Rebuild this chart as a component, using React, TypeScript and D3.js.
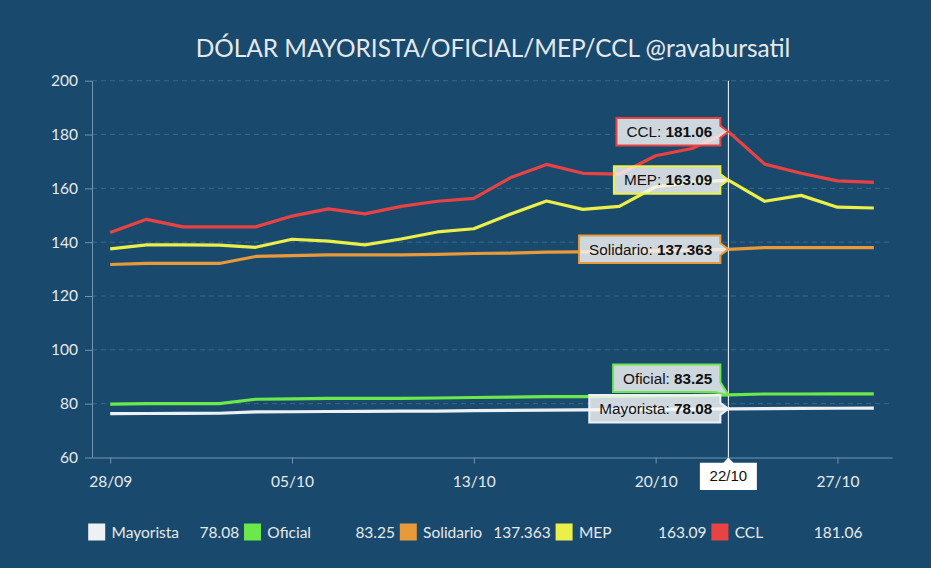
import React, { useEffect, useRef } from 'react';
import * as d3 from 'd3';

// fechas (días hábiles)
const dates = [
  '28/09', '29/09', '30/09', '01/10', '02/10', '05/10', '06/10', '07/10', '08/10', '09/10', '13/10',
  '14/10', '15/10', '16/10', '19/10', '20/10', '21/10', '22/10', '23/10', '26/10', '27/10', '28/10'
];

const mayorista = [76.3, 76.35, 76.4, 76.45, 76.95, 77.0, 77.1, 77.15, 77.2, 77.25, 77.45, 77.5, 77.6, 77.7, 77.8, 77.9, 78.0, 78.08, 78.15, 78.25, 78.3, 78.35];
const oficial = [79.8, 80.05, 80.05, 80.05, 81.65, 81.8, 82.0, 82.0, 82.0, 82.1, 82.3, 82.4, 82.6, 82.65, 82.8, 82.9, 83.0, 83.25, 83.6, 83.6, 83.65, 83.65];
const solidario = [131.7, 132.1, 132.1, 132.1, 134.7, 135.0, 135.3, 135.3, 135.3, 135.5, 135.8, 135.9, 136.3, 136.4, 136.6, 136.8, 137.0, 137.363, 138.0, 138.0, 138.0, 138.0];
const mep = [137.5, 139.0, 139.0, 138.9, 138.1, 141.1, 140.4, 139.0, 141.2, 143.8, 145.0, 150.4, 155.3, 152.2, 153.3, 160.6, 162.2, 163.09, 155.2, 157.4, 153.0, 152.7];
const ccl = [143.6, 148.5, 145.7, 145.7, 145.7, 149.7, 152.4, 150.5, 153.3, 155.2, 156.3, 163.9, 168.9, 165.6, 165.3, 172.1, 174.8, 181.06, 169.0, 165.6, 162.8, 162.2];

const seriesNames = ['Mayorista', 'Oficial', 'Solidario', 'MEP', 'CCL'];
const seriesValues = [mayorista, oficial, solidario, mep, ccl];
const seriesColors = ['#eef1f4', '#6be84a', '#e89a3a', '#ebef48', '#e84242'];

const yTicks = [60, 80, 100, 120, 140, 160, 180, 200];
const xTickLabels = ['28/09', '05/10', '13/10', '20/10', '27/10'];
const hoverDate = '22/10';

const App = () => {
  const svgRef = useRef<SVGSVGElement>(null);

  useEffect(() => {
    const svg = d3.select(svgRef.current);
    svg.selectAll('*').remove();

    const width = 931;
    const height = 568;
    const plotLeft = 92;
    const plotRight = 892;
    const plotTop = 80.7;
    const plotBottom = 457.5;

    const x = d3.scalePoint<string>().domain(dates).range([plotLeft, plotRight]).padding(0.5);
    const y = d3.scaleLinear().domain([60, 200]).range([plotBottom, plotTop]);

    svg.append('rect').attr('width', width).attr('height', height).attr('fill', '#194a6e');

    // título
    svg.append('text')
      .attr('x', 493)
      .attr('y', 57)
      .attr('text-anchor', 'middle')
      .attr('font-family', 'Lato, sans-serif')
      .attr('font-size', '24.4px')
      .attr('fill', '#e6e9ec')
      .text('DÓLAR MAYORISTA/OFICIAL/MEP/CCL @ravabursatil');

    // grilla
    svg.append('g')
      .selectAll('line')
      .data(yTicks.filter(t => t > 60))
      .join('line')
      .attr('x1', plotLeft)
      .attr('x2', plotRight)
      .attr('y1', d => y(d))
      .attr('y2', d => y(d))
      .attr('stroke', '#3b6688')
      .attr('stroke-dasharray', '5,4');

    // eje Y
    const yAxis = svg.append('g')
      .attr('transform', `translate(${plotLeft},0)`)
      .call(d3.axisLeft(y).tickValues(yTicks).tickSize(7).tickSizeOuter(0).tickPadding(7));
    yAxis.select('.domain').attr('stroke', '#7394ae');
    yAxis.selectAll('.tick line').attr('stroke', '#7394ae');
    yAxis.selectAll('text')
      .attr('font-family', 'Lato, sans-serif')
      .attr('font-size', '15.5px')
      .attr('fill', '#e6e9ec');

    // eje X
    const xAxis = svg.append('g')
      .attr('transform', `translate(0,${plotBottom})`)
      .call(d3.axisBottom(x).tickValues(xTickLabels).tickSize(6).tickSizeOuter(0).tickPadding(12));
    xAxis.select('.domain').attr('stroke', '#7394ae');
    xAxis.selectAll('.tick line').attr('stroke', '#7394ae');
    xAxis.selectAll('text')
      .attr('font-family', 'Lato, sans-serif')
      .attr('font-size', '15.5px')
      .attr('fill', '#e6e9ec');

    // líneas
    const line = d3.line<number>()
      .x((_, i) => x(dates[i]) as number)
      .y(d => y(d));

    seriesValues.forEach((vals, k) => {
      svg.append('path')
        .datum(vals)
        .attr('d', line)
        .attr('fill', 'none')
        .attr('stroke', seriesColors[k])
        .attr('stroke-width', 3.2)
        .attr('stroke-linejoin', 'round');
    });

    // crosshair
    const hx = x(hoverDate) as number;
    const hi = dates.indexOf(hoverDate);
    svg.append('line')
      .attr('x1', hx).attr('x2', hx)
      .attr('y1', plotTop).attr('y2', plotBottom)
      .attr('stroke', '#ffffff')
      .attr('stroke-width', 1);

    // tooltips divididos
    const boxH = 27.5;
    const items = seriesNames.map((name, k) => ({
      name,
      color: seriesColors[k],
      value: seriesValues[k][hi],
      ay: y(seriesValues[k][hi]),
      top: 0
    }));
    const sorted = [...items].sort((a, b) => b.ay - a.ay);
    let limit = Infinity;
    sorted.forEach(it => {
      let top = it.ay - boxH / 2;
      if (top + boxH > limit) top = limit - boxH;
      it.top = top;
      limit = top - 3;
    });

    const tipLayer = svg.append('g');
    items.forEach(it => {
      const g = tipLayer.append('g');
      const path = g.append('path');
      const txt = g.append('text')
        .attr('font-family', '"Liberation Sans", Arial, sans-serif')
        .attr('font-size', '15.3px')
        .attr('fill', '#111');
      txt.append('tspan').text(`${it.name}: `);
      txt.append('tspan').attr('font-weight', 'bold').text(`${it.value}`);
      const tw = (txt.node() as SVGTextElement).getComputedTextLength();
      const r = hx - 8;
      const l = r - tw - 18;
      const t = it.top;
      const b = it.top + boxH;
      txt.attr('x', l + 10).attr('y', t + boxH / 2 + 5.4);
      let d;
      if (it.ay >= t + 7 && it.ay <= b - 7) {
        d = `M${l},${t}H${r}V${it.ay - 6}L${hx},${it.ay}L${r},${it.ay + 6}V${b}H${l}Z`;
      } else if (it.ay > b) {
        d = `M${l},${t}H${r}V${b - 10}L${hx},${it.ay}L${r - 6},${b}H${l}Z`;
      } else {
        d = `M${l},${t}H${r - 6}L${hx},${it.ay}L${r},${t + 10}V${b}H${l}Z`;
      }
      path.attr('d', d)
        .attr('fill', 'rgba(247,247,247,0.82)')
        .attr('stroke', it.color)
        .attr('stroke-width', 2);
    });

    // etiqueta de fecha
    const lab = svg.append('g');
    const lw = 57;
    const lt = 462.7;
    lab.append('path')
      .attr('d', `M${hx - lw / 2},${lt}H${hx - 5}L${hx},${plotBottom}L${hx + 5},${lt}H${hx + lw / 2}V${lt + 27.3}H${hx - lw / 2}Z`)
      .attr('fill', '#ffffff');
    lab.append('text')
      .attr('x', hx)
      .attr('y', 480.5)
      .attr('text-anchor', 'middle')
      .attr('font-family', '"Liberation Sans", Arial, sans-serif')
      .attr('font-size', '15px')
      .attr('fill', '#111')
      .text(hoverDate);

    // leyenda
    const legend = svg.append('g');
    seriesNames.forEach((name, k) => {
      const x0 = 88.2 + k * 155.8;
      legend.append('rect')
        .attr('x', x0).attr('y', 523.5)
        .attr('width', 17).attr('height', 17)
        .attr('fill', seriesColors[k]);
      legend.append('text')
        .attr('x', x0 + 23.3).attr('y', 537.5)
        .attr('font-family', 'Lato, sans-serif')
        .attr('font-size', '15.5px')
        .attr('fill', '#e6e9ec')
        .text(name);
      legend.append('text')
        .attr('x', x0 + 151).attr('y', 537.5)
        .attr('text-anchor', 'end')
        .attr('font-family', 'Lato, sans-serif')
        .attr('font-size', '15.5px')
        .attr('fill', '#e6e9ec')
        .text(`${seriesValues[k][hi]}`);
    });
  }, []);

  return (
    <div style={{ position: 'absolute', left: 0, top: 0 }}>
      <svg ref={svgRef} width={931} height={568} style={{ display: 'block' }}></svg>
    </div>
  );
};

export default App;
